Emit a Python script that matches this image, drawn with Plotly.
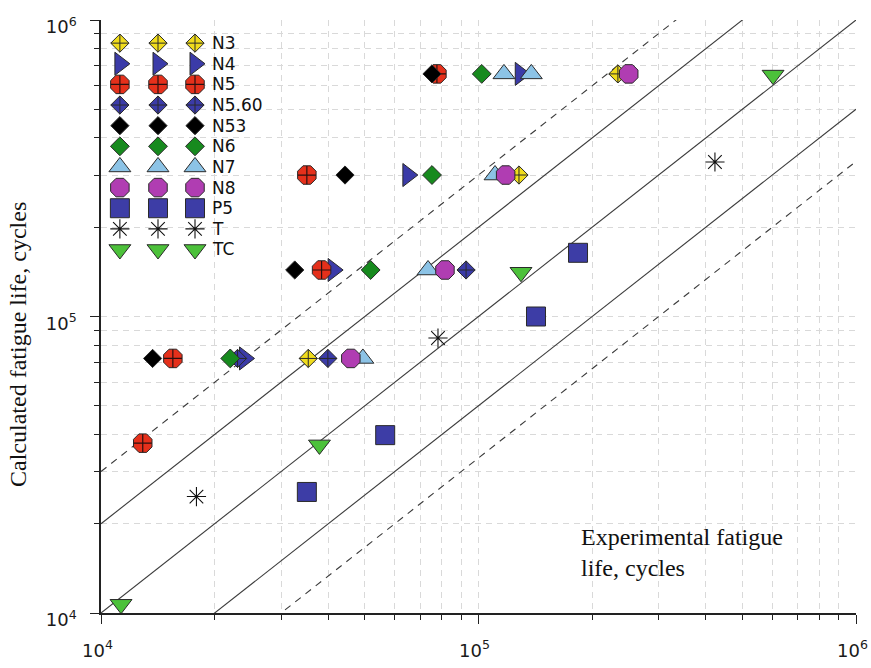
import math
import plotly.graph_objects as go

# Experimental (x) vs calculated (y) fatigue life, cycles, per specimen series
N3_exp = [2.34e5, 1.28e5, 3.54e4]
N3_calc = [6.58e5, 3.00e5, 7.22e4]

N4_exp = [1.29e5, 6.50e4, 4.12e4, 2.40e4]
N4_calc = [6.58e5, 3.00e5, 1.435e5, 7.22e4]

N5_exp = [7.76e4, 3.51e4, 3.84e4, 1.55e4, 1.29e4]
N5_calc = [6.58e5, 3.00e5, 1.435e5, 7.22e4, 3.74e4]

N560_exp = [9.27e4, 3.99e4, 2.30e4]
N560_calc = [1.435e5, 7.22e4, 7.22e4]

N53_exp = [7.53e4, 4.43e4, 3.26e4, 1.37e4]
N53_calc = [6.58e5, 3.00e5, 1.435e5, 7.22e4]

N6_exp = [1.02e5, 7.53e4, 5.18e4, 2.20e4]
N6_calc = [6.58e5, 3.00e5, 1.435e5, 7.22e4]

N7_exp = [1.168e5, 1.38e5, 1.106e5, 7.35e4, 4.94e4]
N7_calc = [6.58e5, 6.58e5, 3.00e5, 1.435e5, 7.22e4]

N8_exp = [2.50e5, 1.18e5, 8.15e4, 4.59e4]
N8_calc = [6.58e5, 3.00e5, 1.435e5, 7.22e4]

P5_exp = [1.835e5, 1.42e5, 5.66e4, 3.51e4]
P5_calc = [1.64e5, 1.00e5, 3.98e4, 2.56e4]

T_exp = [4.23e5, 7.81e4, 1.79e4]
T_calc = [3.32e5, 8.46e4, 2.47e4]

TC_exp = [6.03e5, 1.296e5, 3.79e4, 1.13e4]
TC_calc = [6.52e5, 1.41e5, 3.69e4, 1.07e4]

series_names = ["N3", "N4", "N5", "N5.60", "N53", "N6", "N7", "N8", "P5", "T", "TC"]
series_exp = [N3_exp, N4_exp, N5_exp, N560_exp, N53_exp, N6_exp, N7_exp, N8_exp, P5_exp, T_exp, TC_exp]
series_calc = [N3_calc, N4_calc, N5_calc, N560_calc, N53_calc, N6_calc, N7_calc, N8_calc, P5_calc, T_calc, TC_calc]

# Scatter-band reference lines: calculated = ratio * experimental
band_ratio = [3, 2, 1, 1 / 2, 1 / 3]
band_dash = ["7px,6px", "solid", "solid", "solid", "7px,6px"]
axis_limits = [1e4, 1e6]

decades = [1e4, 1e5, 1e6]
decade_labels = ["10<sup>4</sup>", "10<sup>5</sup>", "10<sup>6</sup>"]
minor_vals = [m * d for d in [1e4, 1e5] for m in range(2, 10)]

# marker styles: (symbol, fill, size, overlay cross)
styles = {
    "N3": ("diamond-cross", "#f0dc1c", 14, False),
    "N4": ("triangle-right", "#3b3ba8", 20, False),
    "N5": ("octagon", "#e5301b", 20, True),
    "N5.60": ("diamond-cross", "#3b3ba8", 14, False),
    "N53": ("diamond", "#000000", 14, False),
    "N6": ("diamond", "#178a1e", 14.5, False),
    "N7": ("triangle-up", "#8cc3e6", 19, False),
    "N8": ("octagon", "#b03db2", 20, False),
    "P5": ("square", "#3d3da6", 19, False),
    "T": ("asterisk-open", "#111111", 16, False),
    "TC": ("triangle-down", "#4cc13a", 19, False),
}

tick_font = dict(family="DejaVu Sans", size=18, color="#1a1a1a")

fig = go.Figure()

for r, d in zip(band_ratio, band_dash):
    fig.add_trace(go.Scatter(
        x=axis_limits, y=[r * v for v in axis_limits], mode="lines",
        line=dict(color="#3a3a3a", width=1.1, dash=d),
        showlegend=False, hoverinfo="skip"))


def marker_trace(x, y, name, xaxis="x", yaxis="y"):
    sym, col, size, cross = styles[name]
    out = []
    if sym == "asterisk-open":
        mk = dict(symbol=sym, size=size, color=col,
                  line=dict(color=col, width=1.1))
    else:
        mk = dict(symbol=sym, size=size, color=col,
                  line=dict(color="#2a2a2a", width=1))
    out.append(go.Scatter(x=x, y=y, mode="markers", marker=mk, name=name,
                          cliponaxis=False, showlegend=False,
                          xaxis=xaxis, yaxis=yaxis))
    if cross:
        out.append(go.Scatter(x=x, y=y, mode="markers",
                              marker=dict(symbol="cross-thin-open", size=13,
                                          color="#2a1010",
                                          line=dict(color="#2a1010", width=1.2)),
                              cliponaxis=False, showlegend=False,
                              hoverinfo="skip", xaxis=xaxis, yaxis=yaxis))
    return out


for name, xs, ys in zip(series_names, series_exp, series_calc):
    for tr in marker_trace(xs, ys, name):
        fig.add_trace(tr)

# In-plot key: three sample markers per series, drawn on an overlay 0..1 frame
key_cols = [0.025, 0.0755, 0.1245]
key_text_x = 0.1445
key_top = 0.961
key_step = 0.0348
key_labels = []
for i, name in enumerate(series_names):
    ky = key_top - i * key_step
    for tr in marker_trace(key_cols, [ky] * 3, name, xaxis="x2", yaxis="y2"):
        fig.add_trace(tr)
    key_labels.append(dict(
        text=name, xref="x2", yref="y2", x=key_text_x, y=ky,
        xanchor="left", yanchor="middle", showarrow=False,
        font=dict(family="DejaVu Sans", size=17, color="#111111")))

# x decade labels placed as annotations so the right-hand one is not dropped
x_tick_labels = [
    dict(text=lab, xref="x", yref="paper", x=math.log10(v), y=0,
         xanchor="center", yanchor="top", yshift=-22, xshift=-4,
         showarrow=False, font=tick_font)
    for v, lab in zip(decades, decade_labels)
]

axis_common = dict(
    type="log", range=[4, 6], tickmode="array", tickvals=decades,
    ticktext=decade_labels, automargin=False,
    ticks="outside", ticklen=9, tickwidth=1.2, tickcolor="#222222",
    showline=True, linecolor="#222222", linewidth=1.5,
    showgrid=True, gridcolor="#d9d9d9", gridwidth=1, griddash="6px,5px",
    zeroline=False, mirror=False,
    tickfont=tick_font,
    minor=dict(tickmode="array", tickvals=minor_vals, ticks="outside",
               ticklen=5, tickwidth=1.1, tickcolor="#222222",
               showgrid=True, gridcolor="#d9d9d9", gridwidth=1,
               griddash="6px,5px"),
)

fig.update_layout(
    width=871, height=668,
    margin=dict(l=101, r=15, t=20, b=55),
    paper_bgcolor="white", plot_bgcolor="white",
    showlegend=False,
    xaxis=dict(**axis_common, showticklabels=False),
    yaxis=dict(**axis_common, ticklabelstandoff=10, ticklabelshift=7),
    xaxis2=dict(overlaying="x", anchor="y2", range=[0, 1], visible=False,
                fixedrange=True),
    yaxis2=dict(overlaying="y", anchor="x2", range=[0, 1], visible=False,
                fixedrange=True),
    annotations=key_labels + x_tick_labels + [
        dict(text="Calculated fatigue life, cycles", xref="paper", yref="paper",
             x=-0.110, y=0.4536, xanchor="center", yanchor="middle",
             textangle=-90, showarrow=False,
             font=dict(family="Liberation Serif", size=24, color="#111111")),
        dict(text="Experimental fatigue<br>life, cycles", xref="paper",
             yref="paper", x=0.633, y=0.1535, xanchor="left", yanchor="top",
             align="left", showarrow=False,
             font=dict(family="Liberation Serif", size=24, color="#111111")),
    ],
)

fig.write_html("out.html")
